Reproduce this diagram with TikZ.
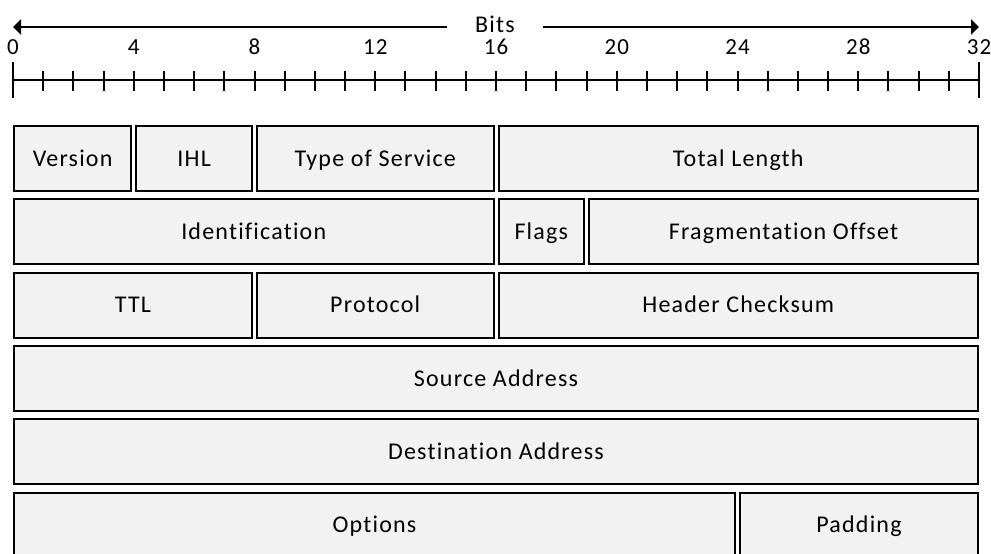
\documentclass[tikz,border=0pt]{standalone}
\usepackage{fontspec}
\setmainfont{Carlito}[Ligatures={NoCommon}, LetterSpace=5]
\usetikzlibrary{arrows.meta}
\tikzset{
  field/.style={draw=black, line width=2pt, fill=black!5, inner sep=0pt,
    font=\fontsize{24}{28}\selectfont, text height=15.5pt, text depth=0pt},
  rulerline/.style={line width=2pt},
  bitlabel/.style={font=\fontsize{23}{27}\selectfont, inner sep=0pt},
}
% one header field spanning bits #2..#3 in row #4
\newcommand\headerfield[5]{%
  \pgfmathsetmacro\fieldL{#2==0 ? 13 : 13+#2*\bitw+1.5}%
  \pgfmathsetmacro\fieldR{#3==32 ? 979 : 13+#3*\bitw-1.5}%
  \pgfmathsetmacro\fieldT{125+(#4-1)*73.3}%
  \node[field, minimum width=\fieldR-\fieldL-2, minimum height=65]
    (#1) at ({(\fieldL+\fieldR)/2},{\fieldT+33.5}) {#5};}
\begin{document}
\begin{tikzpicture}[x=1pt,y=-1pt]
  \def\bitw{30.1875}
  \useasboundingbox (0,0) rectangle (991,554);
  \clip (0,0) rectangle (991,554);

  % "Bits" arrow
  \node[bitlabel, font=\fontsize{24}{28}\selectfont, minimum width=95,
        text height=15.5pt, text depth=0pt] (bits) at (495,25) {Bits};
  \coordinate (bitsL) at (13,27);
  \coordinate (bitsR) at (979,27);
  \draw[rulerline, -{Triangle[length=8pt,width=15pt]}] (bits.west |- bitsL) -- (bitsL);
  \draw[rulerline, -{Triangle[length=8pt,width=15pt]}] (bits.east |- bitsR) -- (bitsR);

  % bit numbers
  \foreach \k in {0,4,...,32}
    \node[bitlabel] (n\k) at (13+\k*\bitw,47) {\k};

  % ruler with one tick per bit
  \coordinate (rulerL) at (13,80);
  \coordinate (rulerR) at (979,80);
  \draw[rulerline] (rulerL) -- (rulerR);
  \draw[rulerline] (13,62) -- (13,98);
  \draw[rulerline] (979,62) -- (979,98);
  \foreach \k in {1,...,31}
    \draw[rulerline] (13+\k*\bitw,71) -- (13+\k*\bitw,91);

  % IPv4 header fields
  \headerfield{version}{0}{4}{1}{Version}
  \headerfield{ihl}{4}{8}{1}{IHL}
  \headerfield{tos}{8}{16}{1}{Type of Service}
  \headerfield{totlen}{16}{32}{1}{Total Length}
  \headerfield{ident}{0}{16}{2}{Identification}
  \headerfield{flags}{16}{19}{2}{Flags}
  \headerfield{fragoff}{19}{32}{2}{Fragmentation Offset}
  \headerfield{ttl}{0}{8}{3}{TTL}
  \headerfield{proto}{8}{16}{3}{Protocol}
  \headerfield{chksum}{16}{32}{3}{Header Checksum}
  \headerfield{src}{0}{32}{4}{Source Address}
  \headerfield{dst}{0}{32}{5}{Destination Address}
  \headerfield{options}{0}{24}{6}{Options}
  \headerfield{padding}{24}{32}{6}{Padding}
\end{tikzpicture}
\end{document}
